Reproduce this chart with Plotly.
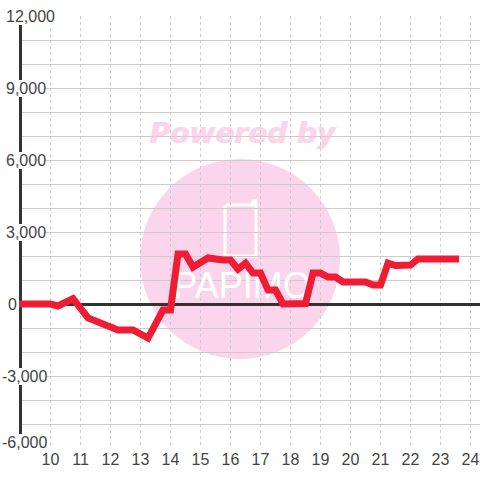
import plotly.graph_objects as go

hours = [9, 10, 10.25, 10.75, 11.25, 11.75, 12.25, 12.75, 13.25, 13.75, 14, 14.25, 14.5, 14.75,
         15.25, 15.75, 16, 16.25, 16.5, 16.75, 17, 17.25, 17.5, 17.75, 18.5, 18.75, 19, 19.25,
         19.5, 19.75, 20.5, 20.75, 21, 21.25, 21.5, 22, 22.25, 23.5]
values = [0, 0, -80, 220, -580, -800, -1080, -1080, -1420, -250, -250, 2080, 2080, 1540,
          1920, 1830, 1830, 1450, 1700, 1290, 1290, 580, 580, 0, 20, 1290, 1290, 1125,
          1125, 920, 920, 790, 790, 1700, 1600, 1620, 1880, 1880]
x_ticks = list(range(10, 25))
y_grid = list(range(-6000, 12001, 1000))
y_labels = [12000, 9000, 6000, 3000, 0, -3000, -6000]
y_label_left = [6, 6, 6, 6, 8, 2, 2]
y_label_shift = [0, 0, 0, 0, 0, 0, 6]

W, H = 480, 480
ML, MR, MT, MB = 19, 0, 16, 32
XMIN = 9 - 1.5 / 30
XMAX = XMIN + (W - ML - MR) / 30
PINK = "#fbd5ec"
GRID = "#cccccc"
DARK = "#333333"
TXT = "#444444"
RED = "#ef1d33"


def px(p):
    return (p - ML) / (W - ML - MR)


def py(p):
    return 1 - (p - MT) / (H - MT - MB)


fig = go.Figure()

# Watermark
wm_x = XMIN + (242 - ML) / 30
fig.add_trace(go.Scatter(x=[wm_x], y=[(304 - 136) / 24 * 1000], mode="text", text=["Powered by"],
                         textfont=dict(family="DejaVu Sans", size=28, color="#f9bfe0",
                                       weight="bold", style="italic", shadow="1px 0 0 #f9bfe0"),
                         opacity=0.65, hoverinfo="skip", showlegend=False, cliponaxis=False))
fig.add_trace(go.Scatter(x=[wm_x], y=[(304 - 289) / 24 * 1000], mode="text", text=["PAPIMO"],
                         textfont=dict(family="Liberation Sans", size=36, color="white"),
                         hoverinfo="skip", showlegend=False))
fig.add_trace(go.Scatter(x=hours, y=values, mode="lines", line=dict(color=RED, width=7),
                         hoverinfo="skip", showlegend=False, cliponaxis=False))

shapes = [
    dict(type="circle", xref="paper", yref="paper", x0=px(140), x1=px(340), y0=py(359), y1=py(159),
         fillcolor=PINK, line=dict(width=0), layer="below"),
    dict(type="path", xref="paper", yref="paper", layer="below", line=dict(color="white", width=3),
         path=f"M {px(227)} {py(205)} L {px(253)} {py(205)} L {px(253)} {py(201)} L {px(256)} {py(201)} "
              f"L {px(256)} {py(256)} L {px(225)} {py(256)} L {px(225)} {py(207)} Z"),
    dict(type="line", xref="x", yref="y", x0=9, x1=9, y0=-6000, y1=12000,
         line=dict(color=DARK, width=3), layer="between"),
]

annotations = [
    dict(xref="paper", yref="y", x=0, y=v, xanchor="left", yanchor="middle", xshift=l - ML, yshift=s,
         text=f"{v:,}", showarrow=False, bgcolor="white", borderpad=0, borderwidth=0,
         font=dict(family="Liberation Sans", size=16, color=TXT))
    for v, l, s in zip(y_labels, y_label_left, y_label_shift)
]

fig.update_layout(
    width=W, height=H, margin=dict(l=ML, r=MR, t=MT, b=MB, pad=0),
    paper_bgcolor="white", plot_bgcolor="rgba(0,0,0,0)", showlegend=False,
    shapes=shapes, annotations=annotations,
    xaxis=dict(range=[XMIN, XMAX], tickvals=x_ticks, showgrid=True, gridcolor=GRID, griddash="3px,3px",
               gridwidth=1, zeroline=False, showline=False, ticks="",
               tickfont=dict(family="Liberation Sans", size=16, color=TXT), fixedrange=True),
    yaxis=dict(range=[-6000, 12000], tickvals=y_grid, showticklabels=False, showgrid=True,
               gridcolor=GRID, gridwidth=1, zeroline=True, zerolinecolor=DARK, zerolinewidth=3,
               showline=False, ticks="", fixedrange=True),
)

post = """
document.body.style.margin='0';
document.querySelectorAll('.js-line').forEach(function(p){
  p.style.strokeLinecap='square'; p.style.strokeLinejoin='miter';
});
"""
fig.write_html("out.html", config={"displayModeBar": False}, post_script=post)
